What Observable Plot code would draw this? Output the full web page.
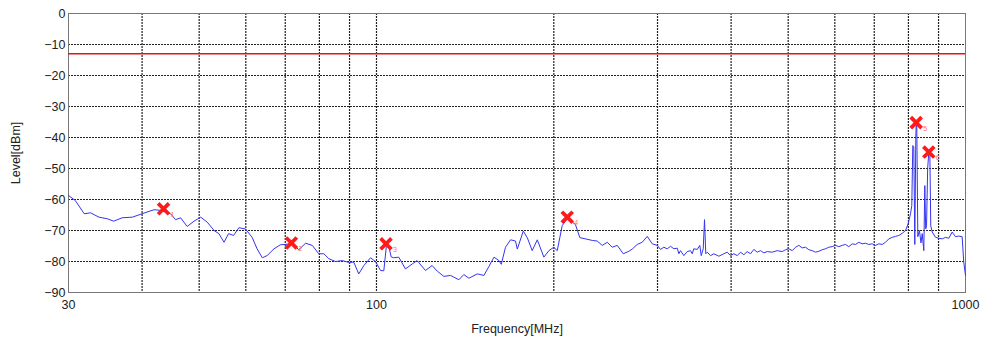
<!DOCTYPE html>
<html>
<head>
<meta charset="utf-8">
<script src="https://cdn.jsdelivr.net/npm/d3@7"></script>
<script src="https://cdn.jsdelivr.net/npm/@observablehq/plot@0.6"></script>
<style>
  html, body { margin: 0; padding: 0; background: #fff; }
  #chart { width: 987px; height: 340px; }
</style>
</head>
<body>
<div id="chart"></div>
<script>
// Spectrum trace: frequency (MHz) and level (dBm)
const freqMHz = [
  30.0, 30.8, 31.9, 32.7, 33.8, 34.9, 35.8, 37.0, 38.5, 40.0,
  41.9, 43.0, 44.7, 45.6, 46.5, 47.7, 49.0, 50.3, 51.6, 53.0,
  54.0, 55.1, 56.1, 57.2, 58.4, 59.9, 61.5, 62.7, 64.0, 65.2,
  67.0, 68.7, 70.1, 71.9, 73.8, 75.8, 77.8, 79.8, 81.4, 83.0,
  85.2, 87.5, 89.7, 91.5, 93.3, 95.2, 97.7, 99.6, 101.6, 102.9,
  103.9, 104.9, 105.9, 107.0, 109.1, 112.0, 115.0, 117.2, 121.1, 124.3,
  126.8, 130.1, 133.6, 138.0, 140.7, 143.5, 148.3, 152.2, 155.2, 158.3,
  161.4, 162.9, 165.6, 168.9, 172.2, 173.4, 177.5, 180.3, 183.8, 187.5,
  192.4, 196.2, 200.0, 202.7, 206.7, 210.8, 215.0, 217.7, 221.4, 226.4,
  232.4, 237.0, 241.7, 246.5, 251.3, 256.3, 262.4, 268.2, 271.7, 277.1,
  282.6, 288.2, 293.9, 299.7,
  303.5, 307.5, 311.6, 315.7, 319.8, 324.1, 326.1, 328.2, 332.5, 336.9,
  341.3, 343.6, 345.7, 350.4, 353.9, 355.9, 358.7, 360.5, 362.3, 364.4,
  369.1, 373.9, 381.3, 388.8, 394.0, 399.1, 404.2, 409.7, 415.0, 420.4,
  426.0, 431.6, 437.2, 443.0, 448.7, 454.6, 460.6, 469.7, 479.0, 488.4,
  494.8, 501.2, 508.0, 514.5, 521.2, 528.2, 535.0, 542.0, 549.3, 556.4,
  563.6, 571.1, 578.5, 586.0, 593.9, 601.6, 609.4, 617.6, 625.6, 633.7,
  642.2, 650.6, 659.0, 667.7, 676.4, 685.2, 694.4, 703.4, 712.5, 722.1,
  731.5, 741.0, 751.0, 760.7, 770.6, 780.8, 791.1, 799.3, 806.5,
  810.6, 813.8, 817.0, 820.2, 823.5, 824.7, 826.6, 829.9, 835.2, 840.3,
  844.3, 849.6, 852.9, 855.9, 858.7, 862.5, 866.4, 869.9, 873.0, 878.0,
  889.5, 901.2, 913.3, 925.0, 936.9, 949.3, 961.5, 974.0, 987.0, 993.2,
  1000
];
const levelDbm = [
  -58.7, -60.3, -64.6, -64.3, -65.7, -66.2, -67.0, -65.9, -65.7, -64.6,
  -63.3, -63.5, -64.6, -66.5, -65.9, -68.7, -67.0, -65.7, -67.3, -70.0,
  -71.0, -73.8, -71.0, -71.6, -69.1, -69.5, -72.2, -75.9, -78.8, -78.1,
  -75.9, -74.6, -74.5, -74.1, -76.2, -74.1, -74.8, -77.5, -77.5, -79.1,
  -80.0, -79.7, -80.3, -80.2, -84.0, -81.3, -78.8, -80.0, -82.9, -83.0,
  -75.4, -75.0, -78.5, -78.8, -78.6, -82.4, -80.8, -79.7, -82.9, -81.3,
  -83.1, -84.8, -84.5, -85.9, -84.2, -85.4, -84.0, -84.5, -81.6, -78.6,
  -79.7, -80.9, -75.4, -73.0, -73.4, -76.0, -70.2, -72.3, -76.5, -73.0,
  -78.6, -76.5, -75.4, -76.5, -68.4, -66.2, -67.3, -68.1, -72.3, -72.7,
  -73.2, -73.4, -74.8, -73.8, -75.4, -74.8, -77.5, -76.7, -76.0, -74.5,
  -73.8, -71.9, -74.3, -74.8,
  -76.1, -75.4, -75.9, -75.1, -75.9, -75.7, -77.5, -76.5, -78.1, -76.8,
  -76.5, -77.5, -75.9, -76.1, -74.8, -78.1, -75.9, -66.5, -77.5, -77.0,
  -78.1, -77.5, -78.3, -77.5, -77.0, -78.1, -77.5, -78.1, -77.0, -77.8,
  -76.8, -77.5, -76.1, -77.0, -76.5, -77.2, -76.8, -77.0, -76.5, -76.8,
  -76.2, -75.9, -76.5, -75.4, -74.8, -75.6, -75.4, -76.2, -76.5, -77.0,
  -76.7, -76.2, -75.9, -75.4, -75.2, -74.8, -75.2, -74.8, -74.5, -75.2,
  -74.3, -74.5, -73.8, -74.3, -74.1, -74.5, -74.3, -74.8, -74.3, -74.5,
  -73.8, -72.7, -72.2, -71.9, -71.6, -70.9, -70.0, -67.8, -64.6,
  -62.0, -42.6, -43.0, -74.5, -40.0, -35.3, -36.0, -72.0, -70.0, -74.0,
  -71.0, -76.5, -55.5, -69.5, -68.5, -50.0, -44.7, -45.0, -68.5, -70.5,
  -72.2, -72.5, -72.7, -72.2, -72.5, -70.5, -72.0, -71.8, -72.0, -80.2,
  -84.5
];

// Peak markers
const markerFreq = [43.5, 71.7, 103.8, 210.8, 824.7, 866.4];
const markerLevel = [-63.0, -74.0, -74.3, -65.7, -35.2, -44.7];
const markerNo = ["1", "2", "3", "4", "5", "6"];

// Limit line
const limitDbm = [-13];

// Ticks / grid
const xTicks = [30, 100, 1000];
const xGrid = [40, 50, 60, 70, 80, 90, 100, 200, 300, 400, 500, 600, 700, 800, 900];
const yTicks = [0, -10, -20, -30, -40, -50, -60, -70, -80, -90];

const trace = freqMHz.map((f, i) => ({f, l: levelDbm[i]}));
const markers = markerFreq.map((f, i) => ({f, l: markerLevel[i], n: markerNo[i]}));

const chart = Plot.plot({
  width: 987,
  height: 340,
  marginLeft: 68,
  marginRight: 22,
  marginTop: 13,
  marginBottom: 48,
  style: {fontFamily: "'Liberation Sans', Arial, sans-serif", fontSize: "12.5px", color: "#222", background: "#fff"},
  x: {type: "log", domain: [30, 1000]},
  y: {domain: [-90, 0]},
  marks: [
    Plot.ruleX(xGrid, {stroke: "#222", strokeWidth: 1.2, strokeDasharray: "2,1"}),
    Plot.ruleY(yTicks, {stroke: "#222", strokeWidth: 1.2, strokeDasharray: "2,1"}),
    Plot.frame({stroke: "#777"}),
    Plot.ruleY(limitDbm, {stroke: "#e01515", strokeWidth: 1.5}),
    Plot.line(trace, {x: "f", y: "l", stroke: "#3434f2", strokeWidth: 1}),
    Plot.dot(markers, {x: "f", y: "l", symbol: "times", r: 5, stroke: "#ff1a1a", strokeWidth: 3.8}),
    Plot.text(markers, {x: "f", y: "l", text: "n", dx: 9, dy: 6, fill: "#ff7070", fontSize: 7}),
    Plot.axisX({ticks: xTicks, tickFormat: d => String(d), tickSize: 0, tickPadding: 8,
      label: "Frequency[MHz]", labelAnchor: "center", labelOffset: 40, labelArrow: "none"}),
    Plot.axisY({ticks: yTicks, tickSize: 0, tickPadding: 3,
      label: "Level[dBm]", labelAnchor: "center", labelOffset: 57, labelArrow: "none"})
  ]
});
document.getElementById("chart").appendChild(chart);
</script>
</body>
</html>
